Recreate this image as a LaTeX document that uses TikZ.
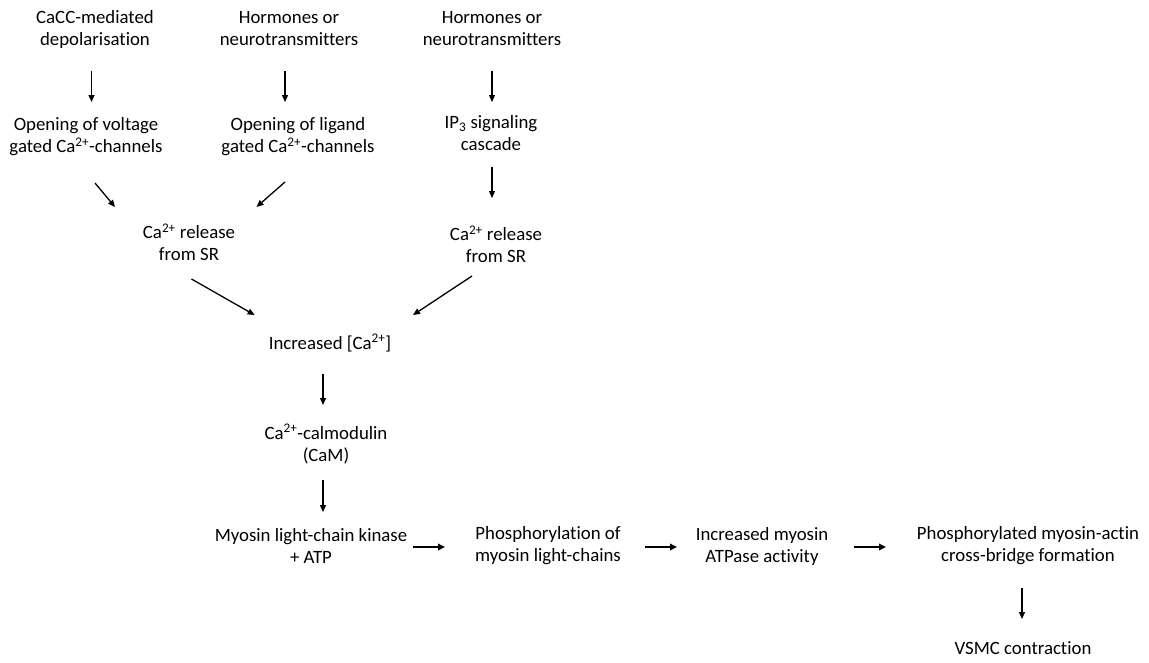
\documentclass[tikz,border=0pt]{standalone}
\usepackage{fontspec}
\setmainfont{Carlito}[Ligatures=CommonOff]
\usetikzlibrary{arrows.meta,calc}
\tikzset{
  lbl/.style={align=center, inner sep=0pt, font=\fontsize{18.8}{22}\selectfont},
  arr/.style={line width=1.3pt, -{Triangle[length=7pt,width=6pt]}},
  harr/.style={line width=1.7pt, -{Triangle[length=7pt,width=6.5pt]}}
}
\newcommand{\cat}{Ca\textsuperscript{2+}}
\begin{document}
\begin{tikzpicture}[x=1pt,y=-1pt]
\fill[white] (0,0) rectangle (1149,662);
\useasboundingbox (0,0) rectangle (1149,662);
\node[lbl] (a1) at (95,29) {CaCC-mediated\\depolarisation};
\node[lbl] (a2) at (289,29) {Hormones or\\neurotransmitters};
\node[lbl] (a3) at (492,29) {Hormones or\\neurotransmitters};
\node[lbl] (b1) at (86,137) {Opening of voltage\\gated \cat-channels};
\node[lbl] (b2) at (298,137) {Opening of ligand\\gated \cat-channels};
\node[lbl] (b3) at (491,133) {IP\textsubscript{3} signaling\\cascade};
\node[lbl] (c1) at (189,242) {\cat{} release\\from SR};
\node[lbl] (c3) at (496,244) {\cat{} release\\from SR};
\node[lbl] (d) at (330,343) {Increased [\cat]};
\node[lbl] (e) at (326,444) {\cat-calmodulin\\(CaM)};
\node[lbl] (f) at (311,546) {Myosin light-chain kinase\\+ ATP};
\node[lbl] (g) at (548,546) {Phosphorylation of\\myosin light-chains};
\node[lbl] (h) at (762,546) {Increased myosin\\ATPase activity};
\node[lbl] (i) at (1028,546) {Phosphorylated myosin-actin\\cross-bridge formation};
\node[lbl] (j) at (1023,648) {VSMC contraction};
\draw[arr] ($(a1)+(-3.5,42)$) -- ($(b1)+(5.5,-35)$);
\draw[arr] ($(a2)+(-4,42)$) -- ($(b2)+(-13,-35)$);
\draw[arr] ($(a3)+(0,42)$) -- ($(b3)+(1,-31)$);
\draw[arr] ($(b3)+(1,34)$) -- ($(c3)+(-4,-46)$);
\draw[arr] ($(b1)+(9,46)$) -- ($(c1)+(-74,-35)$);
\draw[arr] ($(b2)+(-13,45)$) -- ($(c1)+(67.5,-35)$);
\draw[arr] ($(c1)+(2.5,37)$) -- ($(d)+(-75.4,-28)$);
\draw[arr] ($(c3)+(-24,32)$) -- ($(d)+(83,-28)$);
\draw[arr] ($(d)+(-7,31)$) -- ($(e)+(-3,-39)$);
\draw[arr] ($(e)+(-3,36)$) -- ($(f)+(12,-34)$);
\draw[harr] ($(f)+(102,1)$) -- ($(g)+(-103,1)$);
\draw[harr] ($(g)+(97,1)$) -- ($(h)+(-85,1)$);
\draw[harr] ($(h)+(92,1)$) -- ($(i)+(-142,1)$);
\draw[arr] ($(i)+(-6,42)$) -- ($(j)+(-1,-29)$);
\end{tikzpicture}
\end{document}
